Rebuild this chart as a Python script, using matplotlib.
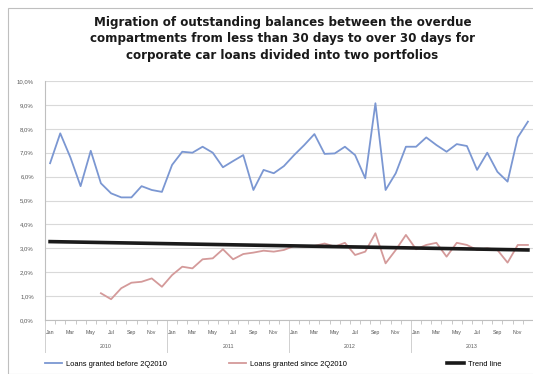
import matplotlib
matplotlib.use('Agg')
import matplotlib.pyplot as plt
import matplotlib.transforms as mtransforms
import numpy as np

# data (percent of outstanding balances)
years = ["2010", "2011", "2012", "2013"]
month_labels = ["Jan", "Mar", "May", "Jul", "Sep", "Nov"]

before_2q2010 = [6.56, 7.81, 6.80, 5.60, 7.08, 5.72, 5.30, 5.13, 5.13, 5.60, 5.44, 5.36,
                 6.49, 7.04, 7.00, 7.25, 7.00, 6.39, 6.65, 6.90, 5.44, 6.28, 6.14, 6.44,
                 6.90, 7.32, 7.78, 6.95, 6.97, 7.25, 6.90, 5.93, 9.07, 5.44, 6.14, 7.25,
                 7.25, 7.64, 7.32, 7.04, 7.36, 7.28, 6.28, 7.00, 6.20, 5.79, 7.64, 8.30]

since_2q2010 = [None, None, None, None, None, 1.12, 0.87, 1.33, 1.56, 1.60, 1.74, 1.39,
                1.88, 2.23, 2.16, 2.54, 2.58, 2.96, 2.54, 2.76, 2.82, 2.90, 2.86, 2.93,
                3.10, 3.07, 3.10, 3.20, 3.07, 3.23, 2.72, 2.86, 3.63, 2.37, 2.93, 3.56,
                2.96, 3.14, 3.23, 2.65, 3.23, 3.14, 2.93, 3.00, 2.93, 2.40, 3.14, 3.14]

trend_ends = [3.28, 2.93]

BLUE = "#7b97d2"
RED = "#d49a9a"
GRID = "#d9d9d9"

n = len(before_2q2010)
x = np.arange(n)
since = np.array([np.nan if v is None else v for v in since_2q2010])

plt.rcParams['font.family'] = ['Liberation Sans', 'DejaVu Sans']
fig = plt.figure(figsize=(5.33, 3.74), dpi=100)

# outer chart border
fig.patches.append(plt.Rectangle((8 / 533, 0.0), 1.0, 1 - 8 / 374, transform=fig.transFigure,
                                 fill=False, edgecolor="#bfbfbf", lw=0.8))

fig.text(0.53, 0.958,
         "Migration of outstanding balances between the overdue\n"
         "compartments from less than 30 days to over 30 days for\n"
         "corporate car loans divided into two portfolios",
         ha="center", va="top", fontsize=8.6, fontweight="bold", color="#1a1a1a",
         family="DejaVu Sans", linespacing=1.35)

ax = fig.add_axes([45 / 533, (374 - 320) / 374, 1 - 45 / 533, (320 - 81) / 374])

l1, = ax.plot(x, before_2q2010, color=BLUE, lw=1.3, label="Loans granted before 2Q2010")
l2, = ax.plot(x, since, color=RED, lw=1.3, label="Loans granted since 2Q2010")
l3, = ax.plot([0, n - 1], trend_ends, color="#1a1a1a", lw=2.6, label="Trend line")

ax.set_ylim(0, 10)
ax.set_xlim(-0.5, n - 0.5)
ax.set_yticks(np.arange(0, 11, 1))
ax.set_yticklabels([f"{v:.1f}%".replace(".", ",") for v in np.arange(0, 11, 1)],
                   fontsize=4.3, color="#595959")
ax.tick_params(axis="y", length=0, pad=8)
ax.grid(axis="y", color=GRID, lw=0.8)
ax.set_axisbelow(True)

for side in ["top", "right"]:
    ax.spines[side].set_visible(False)
ax.spines["left"].set_color("#bfbfbf")
ax.spines["bottom"].set_color("#bfbfbf")

# month labels every second month
ax.set_xticks(np.arange(0, n, 2))
ax.set_xticklabels(month_labels * len(years), fontsize=3.8, color="#595959")
ax.set_xticks(np.arange(-0.5, n, 1), minor=True)
ax.tick_params(axis="x", which="major", length=0, pad=7)
ax.tick_params(axis="x", which="minor", length=3, color="#bfbfbf", direction="out")

# year labels and separators below the axis
trans = mtransforms.blended_transform_factory(ax.transData, ax.transAxes)
for i, yr in enumerate(years):
    ax.text(i * 12 + 5.5, -0.11, yr, transform=trans, ha="center", va="center",
            fontsize=3.8, color="#595959")
    ax.plot([i * 12 - 0.5, i * 12 - 0.5], [0, -0.135], transform=trans, color="#d0d0d0",
            lw=0.7, clip_on=False)

# legend entries spread across the bottom like the original
for handle, x0 in zip([l1, l2, l3], [45, 229, 447]):
    leg = fig.legend(handles=[handle], loc="center left", bbox_to_anchor=(x0 / 533, 10 / 374),
                     frameon=False, fontsize=5.4, handlelength=2.3, handletextpad=0.5,
                     borderpad=0, borderaxespad=0)

fig.savefig("out.png", dpi=100)
